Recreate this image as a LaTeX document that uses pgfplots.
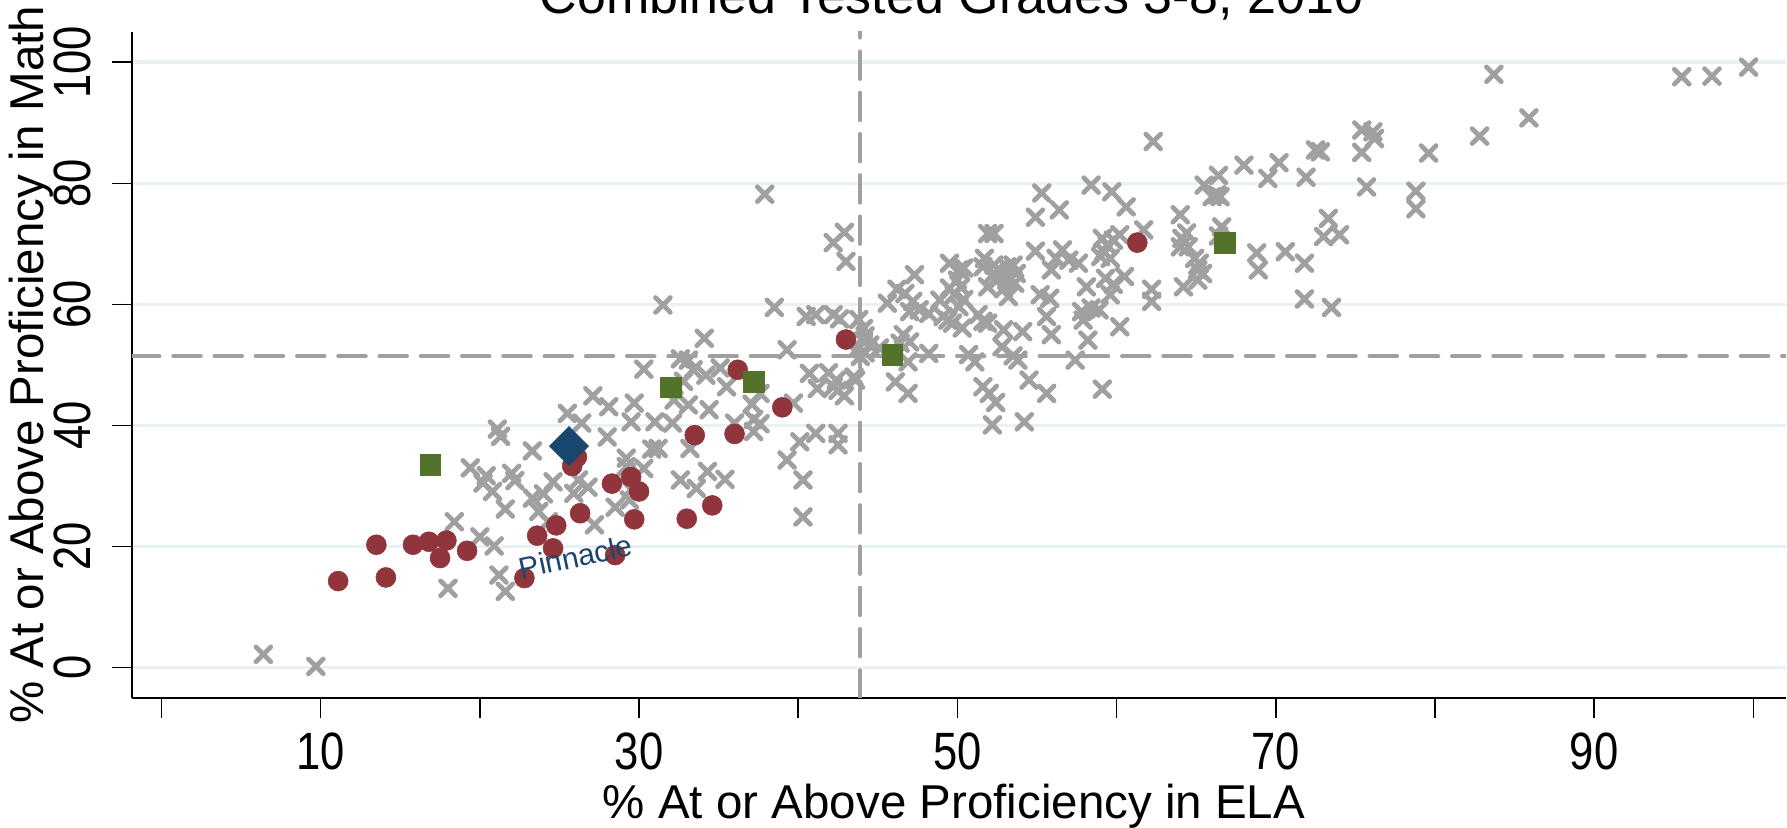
\documentclass[border=0pt]{standalone}
\usepackage{pgfplots}
\pgfplotsset{compat=1.18}
\usepackage{fontspec}
\setmainfont{Liberation Sans}
\usepackage{graphicx}
\definecolor{gx}{RGB}{160,160,160}
\definecolor{rd}{RGB}{144,53,59}
\definecolor{gn}{RGB}{83,115,43}
\definecolor{bl}{RGB}{26,71,111}
\definecolor{gridc}{RGB}{232,241,243}
\newcommand\cond[1]{\scalebox{0.83}[1]{#1}}
\begin{document}
\begin{tikzpicture}
\begin{axis}[
 scale only axis, width=661.6pt, height=266.3pt,
 at={(52.8pt,52.12pt)}, anchor=south west,
 xmin=-1.85, xmax=102.05, ymin=-4.96, ymax=105,
 axis lines*=left, axis line style={line width=0.85pt, black},
 tick align=outside, major tick length=8pt, tick style={line width=0.6pt, black},
 xtick={0,10,...,100}, xticklabels={,\cond{10},,\cond{30},,\cond{50},,\cond{70},,\cond{90},},
 ytick={0,20,...,100}, yticklabels={\cond{0},\cond{20},\cond{40},\cond{60},\cond{80},\cond{100}},
 ticklabel style={font=\fontsize{21}{24}\selectfont},
 yticklabel style={rotate=90, anchor=south, inner sep=0pt},
 xticklabel style={anchor=north, inner sep=0pt},
 xticklabel shift=5.9pt, yticklabel shift=8.1pt,
 ymajorgrids, grid style={gridc, line width=1.4pt},
 xlabel={\% At or Above Proficiency in ELA}, ylabel={\% At or Above Proficiency in Math},
 label style={font=\fontsize{19}{22}\selectfont},
 xlabel style={at={(axis description cs:0.497,-0.1812)}, anchor=base},
 ylabel style={at={(axis description cs:-0.0538,0.5)}, anchor=base},
]
\addplot[gx, line width=1.6pt, line cap=round, dash pattern=on 11pt off 5.5pt] coordinates {(43.9,-4.96) (43.9,105)};
\addplot[gx, line width=1.6pt, line cap=round, dash pattern=on 11pt off 5.5pt] coordinates {(-1.85,51.4) (102.05,51.4)};
\addplot[only marks, mark=x, mark size=4.2pt, gx, mark options={line width=1.9pt, line cap=round}] coordinates {
(6.4,2.2) (9.7,0.2) (18.0,13.1) (21.6,12.6) (21.2,15.3) (20.9,20.1) (20.0,21.6) (18.4,24.1)
(21.6,26.2) (20.8,29.1) (20.2,30.5) (20.4,31.7) (19.4,33.0) (22.0,32.1) (22.2,30.9) (23.3,35.8)
(21.1,39.4) (21.3,38.2) (23.3,28.0) (24.0,28.7) (24.6,30.7) (23.7,25.8) (24.3,24.1) (25.9,28.8)
(26.2,31.0) (26.8,29.8) (27.2,23.6) (28.5,26.5) (29.4,27.7) (29.5,29.4) (29.2,34.6) (29.2,33.2)
(30.3,32.9) (30.8,36.1) (31.2,36.2) (28.0,38.1) (26.4,40.4) (25.5,42.0) (27.1,44.9) (28.1,43.1)
(29.7,43.7) (29.5,40.6) (31.0,40.6) (32.1,40.4) (32.2,44.2) (32.6,31.0) (33.6,29.6) (33.2,36.2)
(33.1,43.4) (32.8,47.3) (30.3,49.3) (32.6,51.0) (33.1,50.8) (33.4,49.2) (34.2,48.3) (35.1,49.5)
(34.1,54.4) (31.5,59.9) (38.5,59.5) (43.0,67.1) (37.9,78.2) (42.9,71.9) (42.2,70.2) (35.5,46.4)
(37.6,45.3) (37.1,43.5) (34.4,42.6) (36.0,40.4) (37.2,41.0) (37.6,40.3) (37.2,39.0) (34.3,32.4)
(35.4,31.1) (39.3,34.3) (40.3,31.0) (40.3,24.9) (40.1,37.3) (41.1,38.7) (42.5,38.7) (42.5,36.8)
(39.7,43.7) (39.3,52.5) (40.7,48.6) (41.9,48.7) (42.4,47.5) (41.2,46.1) (42.2,46.4) (42.5,45.8)
(42.9,44.9) (43.5,48.0) (40.5,58.0) (41.1,58.3) (42.2,58.3) (42.6,57.6) (43.8,57.5) (44.1,56.0)
(44.2,54.8) (44.1,54.0) (44.5,53.3) (43.8,52.8) (44.2,52.0) (45.1,52.8) (43.9,51.4) (43.6,47.5)
(45.6,60.2) (46.2,62.5) (46.1,47.2) (46.9,45.3) (46.6,55.0) (47.0,53.8) (46.4,53.6) (48.2,51.9)
(46.9,50.5) (50.7,51.7) (51.1,50.5) (52.9,55.8) (52.8,53.0) (53.5,51.5) (53.8,50.8) (54.1,55.5)
(57.4,50.8) (54.5,47.5) (55.6,45.3) (59.1,46.0) (51.6,46.4) (52.0,45.3) (52.4,43.8) (52.2,40.1)
(54.2,40.6) (58.2,54.1) (60.2,56.3) (55.6,58.0) (55.9,55.0) (57.8,58.8) (58.4,59.4) (58.9,59.1)
(57.9,57.4) (55.2,61.6) (55.8,61.0) (58.1,62.9) (59.3,64.3) (59.8,63.3) (60.5,64.6) (59.6,61.6)
(55.9,65.7) (56.6,69.0) (56.2,67.6) (57.0,67.3) (57.6,66.8) (54.9,68.8) (59.1,70.9) (59.4,69.8)
(59.2,68.7) (59.8,70.6) (60.2,71.5) (59.0,67.9) (59.6,67.6) (61.7,72.3) (54.9,74.4) (56.4,75.6)
(55.3,78.4) (58.4,79.7) (59.7,78.6) (60.6,76.1) (51.9,71.7) (52.3,71.7) (51.7,67.6) (51.6,66.2)
(52.3,66.5) (52.6,65.7) (53.1,66.2) (53.5,66.5) (53.2,64.8) (53.7,65.1) (53.6,63.5) (53.1,64.0)
(52.5,64.0) (51.9,62.9) (52.9,62.6) (53.2,61.3) (52.3,65.1) (49.5,66.8) (50.1,65.7) (50.4,66.0)
(47.3,64.9) (50.0,64.0) (49.5,62.7) (50.2,62.9) (49.8,61.6) (50.4,60.8) (50.1,59.6) (46.7,61.8)
(47.2,60.5) (47.0,58.8) (47.6,59.1) (48.2,58.5) (48.9,60.7) (49.1,58.0) (49.4,57.4) (49.7,56.9)
(50.3,56.1) (51.3,58.3) (51.6,57.2) (51.9,56.9) (62.2,62.5) (62.2,60.5) (62.3,86.9) (64.0,74.8)
(65.5,79.7) (66.4,81.3) (66.3,78.1) (66.5,77.8) (66.0,77.8) (68.0,83.0) (70.2,83.4) (69.5,80.8)
(66.6,72.8) (66.4,71.3) (64.1,70.9) (64.4,71.8) (64.0,69.5) (64.5,69.5) (64.9,67.6) (65.2,66.8)
(65.1,65.7) (65.4,65.1) (65.1,64.0) (64.2,62.9) (68.8,68.5) (68.9,65.7) (70.6,68.7) (71.8,66.8)
(71.9,81.0) (72.5,85.5) (72.8,85.2) (75.4,88.8) (76.1,88.5) (76.2,87.4) (75.4,85.1) (75.7,79.4)
(73.3,74.2) (73.0,71.2) (74.0,71.5) (71.8,60.9) (73.5,59.5) (78.8,78.7) (78.8,75.8) (79.6,85.0)
(82.8,87.8) (85.9,90.8) (83.7,98.0) (95.5,97.6) (97.4,97.7) (99.7,99.2)
};
\addplot[only marks, mark=*, mark size=4.0pt, rd, mark options={draw=rd, fill=rd, line width=0.2pt}] coordinates {
(11.1,14.3) (13.5,20.3) (14.1,14.9) (15.8,20.3) (16.8,20.8) (17.9,21.0) (17.5,18.1) (19.2,19.3)
(22.8,14.8) (23.6,21.8) (24.6,19.7) (24.8,23.5) (26.3,25.5) (25.8,33.3) (26.1,34.8) (28.3,30.4)
(29.5,31.5) (30.0,29.1) (29.7,24.5) (33.0,24.6) (33.5,38.4) (34.6,26.8) (36.0,38.6) (36.2,49.2)
(39.0,43.0) (43.0,54.2) (61.3,70.2) (28.5,18.6)
};
\addplot[only marks, mark=square*, mark size=4.1pt, gn, mark options={draw=gn, fill=gn, line width=0.3pt, rounded corners=0.6pt}] coordinates {
(16.9,33.5) (32.0,46.3) (37.2,47.2) (45.9,51.7) (66.8,70.2)
};
\addplot[only marks, mark=square*, mark size=5.5pt, bl, mark options={draw=bl, fill=bl, rotate=45, line width=0.3pt, rounded corners=0.6pt}] coordinates {
(25.6,36.6)
};
\coordinate (pin) at (axis cs:22.6,14.6);
\end{axis}
\node[bl, font=\fontsize{12}{14}\selectfont, rotate=12, anchor=base west, inner sep=0pt] at (pin) {Pinnacle};
\node[font=\fontsize{20.8}{24}\selectfont, anchor=base] at (380.6pt,325.9pt) {Combined Tested Grades 3-8, 2010};
\pgfresetboundingbox
\useasboundingbox (0,0) rectangle (714.8pt,331.2pt);
\end{tikzpicture}
\end{document}
